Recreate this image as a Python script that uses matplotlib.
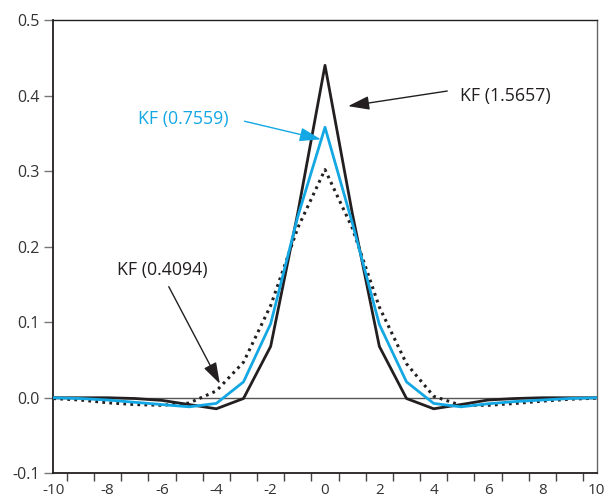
import numpy as np
import matplotlib
matplotlib.use("Agg")
import matplotlib.pyplot as plt
from matplotlib.ticker import FixedLocator

plt.rcParams['font.family'] = ['Open Sans', 'DejaVu Sans']

x = np.arange(-10, 11)

# KF (1.5657) - black solid
kf_high = [0.0, 0.0, 0.0, -0.001, -0.0035, -0.009, -0.0146, -0.001, 0.068, 0.245, 0.440,
           0.245, 0.068, -0.001, -0.0146, -0.009, -0.003, -0.001, 0.0, 0.0, 0.0]
# KF (0.7559) - blue
kf_mid = [0.0, -0.001, -0.003, -0.006, -0.009, -0.012, -0.0075, 0.021, 0.098, 0.240, 0.358,
          0.232, 0.097, 0.021, -0.0075, -0.012, -0.008, -0.005, -0.003, -0.001, 0.0]
# KF (0.4094) - black dotted
kf_low = [-0.001, -0.003, -0.0066, -0.009, -0.010, -0.007, 0.009, 0.047, 0.122, 0.225, 0.302,
          0.225, 0.120, 0.045, 0.002, -0.010, -0.010, -0.0075, -0.0045, -0.002, -0.0005]

BLUE = "#13a8e3"
BLACK = "#231f20"

fig = plt.figure(figsize=(6.04, 5.03), dpi=100)
ax = fig.add_axes([53.3 / 604, 1 - 473.3 / 503, (596.7 - 53.3) / 604, (473.3 - 20) / 503])

ax.axhline(0, color="#555555", lw=1.0, zorder=1)
ax.plot(x, kf_low, color=BLACK, lw=2.2, linestyle=(0, (0.9, 1.4)), zorder=2)
ax.plot(x, kf_high, color=BLACK, lw=2.0, zorder=3)
ax.plot(x, kf_mid, color=BLUE, lw=2.0, zorder=4)

ax.set_xlim(-10, 9.93)
ax.set_ylim(-0.1, 0.5)

ax.set_xticks(range(-10, 11, 2))
ax.set_xticklabels([str(v) for v in range(-10, 11, 2)])
ax.tick_params(axis="x", which="major", length=0, pad=7, labelsize=11)
ax.xaxis.set_minor_locator(FixedLocator(np.arange(-9.5, 10, 1.0)))
ax.tick_params(axis="x", which="minor", length=5.5, width=1.0, color="#444444", direction="out")

ax.set_yticks(np.arange(-0.1, 0.51, 0.1))
ax.set_yticklabels([f"{v:.1f}" for v in np.arange(-0.1, 0.51, 0.1)])
ax.tick_params(axis="y", length=6.5, width=1.0, color="#777777", pad=3, labelsize=11.5)
ax.tick_params(labelcolor="#333333")

for side in ["left", "bottom", "top"]:
    ax.spines[side].set_color(BLACK)
    ax.spines[side].set_linewidth(1.3)
ax.spines["top"].set_linewidth(1.0)
ax.spines["right"].set_color("#666666")
ax.spines["right"].set_linewidth(1.0)

arrow = dict(arrowstyle="-|>,head_length=1.3,head_width=0.42", lw=1.0, shrinkA=0, shrinkB=0)

ax.annotate("", xy=(0.85, 0.386), xytext=(4.5, 0.406),
            arrowprops=dict(arrow, color=BLACK))
ax.text(4.96, 0.399, "KF (1.5657)", color=BLACK, fontsize=12.8, ha="left", va="center")

ax.annotate("", xy=(-0.15, 0.342), xytext=(-2.96, 0.366),
            arrowprops=dict(arrow, color=BLUE))
ax.text(-6.9, 0.369, "KF (0.7559)", color=BLUE, fontsize=12.8, ha="left", va="center")

ax.annotate("", xy=(-3.87, 0.0185), xytext=(-5.75, 0.147),
            arrowprops=dict(arrow, color=BLACK))
ax.text(-7.65, 0.169, "KF (0.4094)", color=BLACK, fontsize=12.8, ha="left", va="center")

fig.savefig("out.png", dpi=100)
